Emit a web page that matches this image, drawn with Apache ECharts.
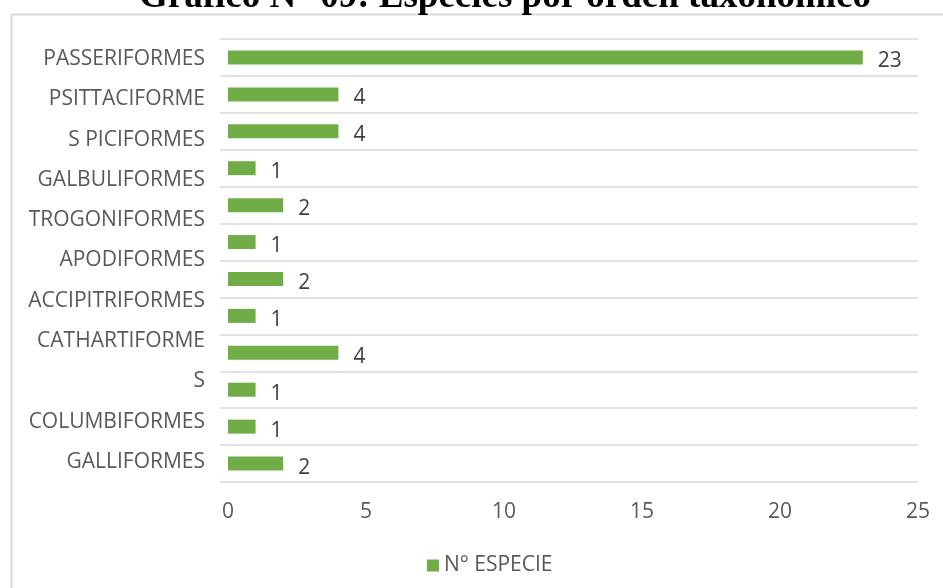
<!DOCTYPE html>
<html>
<head>
<meta charset="utf-8">
<script src="https://cdn.jsdelivr.net/npm/echarts@6/dist/echarts.min.js"></script>
<style>
html,body{margin:0;padding:0;background:#fff;}
#chart{width:943px;height:588px;}
</style>
</head>
<body>
<div id="chart"></div>
<script>
var titleText = 'Gráfico N° 09: Especies por orden taxonómico';
var barCategories = ['B1','B2','B3','B4','B5','B6','B7','B8','B9','B10','B11','B12'];
var values = [23, 4, 4, 1, 2, 1, 2, 1, 4, 1, 1, 2];
var tickLabels = ['PASSERIFORMES','PSITTACIFORME','S PICIFORMES','GALBULIFORMES','TROGONIFORMES','APODIFORMES','ACCIPITRIFORMES','CATHARTIFORME','S','COLUMBIFORMES','GALLIFORMES'];
var seriesName = 'N° ESPECIE';

var FONT = 'Open Sans';
var TXT = '#595959';
var GRID = '#d9d9d9';

var chart = echarts.init(document.getElementById('chart'), null, {renderer: 'canvas'});
chart.setOption({
  animation: false,
  backgroundColor: '#fff',
  graphic: [
    {type: 'rect', left: 9, top: 12, shape: {x: 0, y: 0, width: 1000, height: 1000},
     style: {fill: 'none', stroke: GRID, lineWidth: 2}, silent: true},
    {type: 'text', x: 505, y: -3, silent: true,
     style: {text: titleText, font: 'bold 37px "Liberation Serif"', fill: '#000', align: 'center', verticalAlign: 'middle'}}
  ],
  legend: {
    data: [seriesName], left: 422, top: 550, itemWidth: 12, itemHeight: 12,
    icon: 'rect', itemGap: 5,
    textStyle: {fontFamily: FONT, fontSize: 21, color: TXT}
  },
  grid: {left: 228, right: 25, top: 39, bottom: 106, containLabel: false},
  xAxis: {
    type: 'value', min: 0, max: 25, interval: 5,
    axisLine: {show: false}, axisTick: {show: false}, splitLine: {show: false},
    axisLabel: {fontFamily: FONT, fontSize: 21, color: TXT, margin: 20}
  },
  yAxis: [
    {
      type: 'category', data: barCategories, inverse: true,
      axisLine: {show: false},
      axisTick: {show: true, length: 8, lineStyle: {color: GRID, width: 1.5}},
      axisLabel: {show: false},
      splitLine: {show: true, lineStyle: {color: GRID, width: 1.5}}
    },
    {
      type: 'category', data: tickLabels, inverse: true, position: 'left',
      axisLine: {show: false}, axisTick: {show: false}, splitLine: {show: false},
      axisLabel: {fontFamily: FONT, fontSize: 21, color: TXT, margin: 23}
    }
  ],
  series: [{
    name: seriesName, type: 'bar', yAxisIndex: 0, data: values,
    barWidth: 14,
    itemStyle: {color: '#70ad47'},
    label: {show: true, position: 'right', distance: 15, offset: [0, 4],
            fontFamily: FONT, fontSize: 21, color: '#404040'}
  }]
});
</script>
</body>
</html>
